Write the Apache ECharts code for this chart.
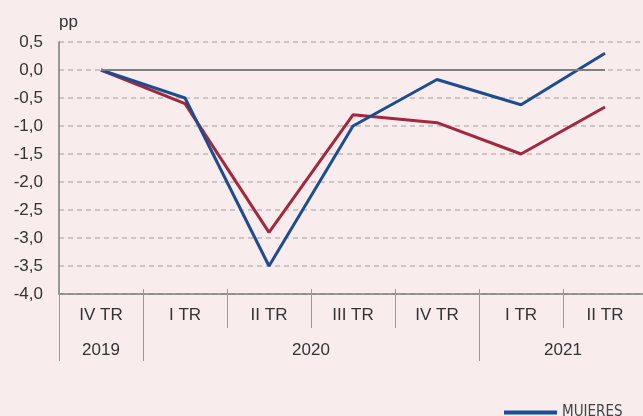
<!DOCTYPE html>
<html>
<head>
<meta charset="utf-8">
<script src="https://cdn.jsdelivr.net/npm/echarts@6/dist/echarts.min.js"></script>
<style>
    html, body {margin: 0; padding: 0; background: #f8ecec;}
    #chart {width: 643px; height: 416px;}
</style>
</head>
<body>
<div id="chart"></div>
<script>
const quarters = ['IV TR', 'I TR', 'II TR', 'III TR', 'IV TR', 'I TR', 'II TR'];
// half-step slots for the year row: 2019 / 2020 / 2021 centred on their quarters
const yearSlots = ['', '2019', '', '', '', '', '2020', '', '', '', '', '', '2021', '', ''];
const mujeres = [0, -0.5, -3.5, -1.0, -0.17, -0.62, 0.3];
const hombres = [0, -0.6, -2.9, -0.8, -0.94, -1.5, -0.66];
const yTicks = {min: -4, max: 0.5, step: 0.5};

const myChart = echarts.init(document.getElementById('chart'));
const font = 'Liberation Sans, Arial, Helvetica, sans-serif';
const axisGray = '#7c7c7c';

const option = {
    backgroundColor: '#f8ecec',
    animation: false,
    textStyle: {fontFamily: font},
    grid: {left: 59, right: -4, top: 42, bottom: 122, outerBoundsMode: 'none', containLabel: false},
    legend: {
        left: 499,
        top: 400,
        icon: 'rect',
        itemWidth: 53,
        itemHeight: 4,
        itemGap: 30,
        textStyle: {
            fontFamily: 'Liberation Sans Narrow, DejaVu Sans Condensed, sans-serif',
            fontSize: 15,
            color: '#444'
        },
        data: ['MUJERES', 'HOMBRES']
    },
    xAxis: [
        {
            type: 'category',
            data: quarters,
            position: 'bottom',
            boundaryGap: true,
            axisLine: {onZero: false, lineStyle: {color: axisGray, width: 1.5}},
            axisTick: {show: true, length: 34, lineStyle: {color: '#999'}},
            axisLabel: {interval: 0, margin: 13, fontSize: 17, color: '#333', fontFamily: font},
            splitLine: {show: false}
        },
        {
            type: 'category',
            data: yearSlots,
            position: 'bottom',
            boundaryGap: false,
            axisLine: {show: false, onZero: false},
            axisTick: {
                show: true,
                length: 67,
                interval: function (index) {
                    return index === 0 || index === 2 || index === 10;
                },
                lineStyle: {color: '#999'}
            },
            axisLabel: {interval: 0, margin: 48, fontSize: 17, color: '#333', fontFamily: font},
            splitLine: {show: false}
        },
        {
            type: 'category',
            data: quarters,
            position: 'bottom',
            boundaryGap: true,
            axisLine: {show: false, onZero: false},
            axisTick: {show: true, inside: true, length: 5, lineStyle: {color: '#999'}},
            axisLabel: {show: false},
            splitLine: {show: false}
        }
    ],
    yAxis: {
        type: 'value',
        min: yTicks.min,
        max: yTicks.max,
        interval: yTicks.step,
        name: 'pp',
        nameLocation: 'end',
        nameGap: 11,
        nameTextStyle: {align: 'left', verticalAlign: 'bottom', fontSize: 17, color: '#333', fontFamily: font},
        axisLine: {show: true, lineStyle: {color: axisGray, width: 1.5}},
        axisTick: {show: false},
        axisLabel: {
            margin: 16,
            fontSize: 17,
            color: '#333',
            fontFamily: font,
            formatter: function (value) {
                return value.toFixed(1).replace('.', ',');
            }
        },
        splitLine: {
            show: true,
            lineStyle: {color: '#bdb6b8', type: [5, 4], width: 1.5}
        }
    },
    series: [
        {
            name: 'MUJERES',
            type: 'line',
            xAxisIndex: 0,
            data: mujeres,
            symbol: 'none',
            lineStyle: {color: '#1d4c8f', width: 3},
            itemStyle: {color: '#1d4c8f'},
            markLine: {
                silent: true,
                symbol: ['none', 'none'],
                label: {show: false},
                lineStyle: {color: '#7f7f7f', type: 'solid', width: 2},
                data: [[{coord: [0, 0]}, {coord: [quarters.length - 1, 0]}]]
            },
            z: 3
        },
        {
            name: 'HOMBRES',
            type: 'line',
            xAxisIndex: 0,
            data: hombres,
            symbol: 'none',
            lineStyle: {color: '#a2283f', width: 3},
            itemStyle: {color: '#a2283f'},
            z: 2
        }
    ]
};
myChart.setOption(option);
</script>
</body>
</html>
